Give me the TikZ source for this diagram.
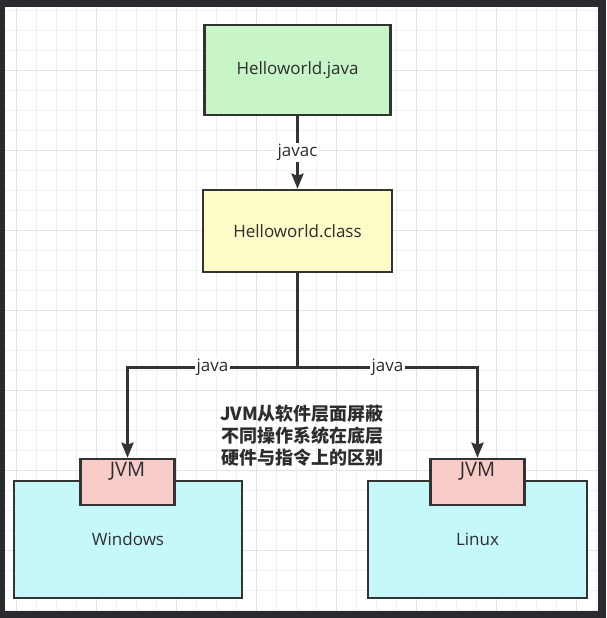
\documentclass[tikz,border=0pt]{standalone}
\usepackage{fontspec}
\setmainfont{Open Sans}
\newfontfamily\cjk{Noto Sans CJK SC}
\usetikzlibrary{arrows.meta, positioning}
\definecolor{frameColor}{RGB}{42,43,48}
\definecolor{lineColor}{RGB}{51,51,51}
\definecolor{textColor}{RGB}{45,45,45}
\definecolor{gridMinorColor}{RGB}{240,240,240}
\definecolor{gridMajorColor}{RGB}{228,228,228}
\definecolor{srcColor}{RGB}{200,245,200}
\definecolor{byteColor}{RGB}{254,252,200}
\definecolor{jvmColor}{RGB}{248,204,200}
\definecolor{osColor}{RGB}{198,248,250}

\tikzset{
  box/.style={draw=lineColor, line width=2.6pt, rectangle, inner sep=0pt,
    text=textColor, font=\fontsize{17}{20}\selectfont},
  wire/.style={draw=lineColor, line width=2.8pt},
  arr/.style={wire, -{Stealth[length=15pt,width=12pt,inset=2pt]}},
  lbl/.style={fill=white, inner sep=1.5pt, text=textColor,
    font=\fontsize{17}{20}\selectfont}
}

\begin{document}
\begin{tikzpicture}[x=1pt,y=-1pt]
\useasboundingbox (0,0) rectangle (606,618);
% screen frame and paper
\fill[frameColor] (0,0) rectangle (606,618);
\fill[white] (5,7) rectangle (598,611);
% grid
\foreach \x in {16,36,...,596} {
    \draw[gridMinorColor, line width=0.8pt] (\x,7) -- (\x,611);
}
\foreach \y in {10,30,...,610} {
    \draw[gridMinorColor, line width=0.8pt] (5,\y) -- (598,\y);
}
\foreach \x in {16,96,...,596} {
    \draw[gridMajorColor, line width=1pt] (\x,7) -- (\x,611);
}
\foreach \y in {70,150,...,610} {
    \draw[gridMajorColor, line width=1pt] (5,\y) -- (598,\y);
}

% source and bytecode
\node[box, fill=srcColor, minimum width=186pt, minimum height=90pt] (java) at (297.5,70) {Helloworld.java};
\node[box, fill=byteColor, minimum width=189pt, minimum height=82pt] (class) at (297.5,231) {Helloworld.class};
\draw[arr] (java) -- node[lbl] {javac} (class);

% operating systems
\node[box, fill=osColor, minimum width=228pt, minimum height=117pt] (win) at (128,539.5) {Windows};
\node[box, fill=osColor, minimum width=219pt, minimum height=117pt] (linux) at (477.5,539.5) {Linux};
\node[box, fill=jvmColor, minimum width=94pt, minimum height=46pt] (jvmL) at (127.5,482) {};
\node[box, fill=jvmColor, minimum width=94pt, minimum height=46pt] (jvmR) at (477.5,482) {};
\node[text=textColor, font=\fontsize{20}{22}\selectfont, inner sep=0pt, below=4pt of jvmL.north] {JVM};
\node[text=textColor, font=\fontsize{20}{22}\selectfont, inner sep=0pt, below=4pt of jvmR.north] {JVM};

% java run on both
\coordinate (split) at (class.south |- 0,367.5);
\draw[wire] (class.south) -- (split);
\draw[arr] (split) -| node[lbl, pos=0.25] {java} (jvmL.north);
\draw[arr] (split) -| node[lbl, pos=0.25] {java} (jvmR.north);

% note
\node[text=textColor, align=center, font=\cjk\bfseries\fontsize{18}{22}\selectfont] (note) at (302,436)
  {JVM从软件层面屏蔽\\不同操作系统在底层\\硬件与指令上的区别};
\end{tikzpicture}
\end{document}
